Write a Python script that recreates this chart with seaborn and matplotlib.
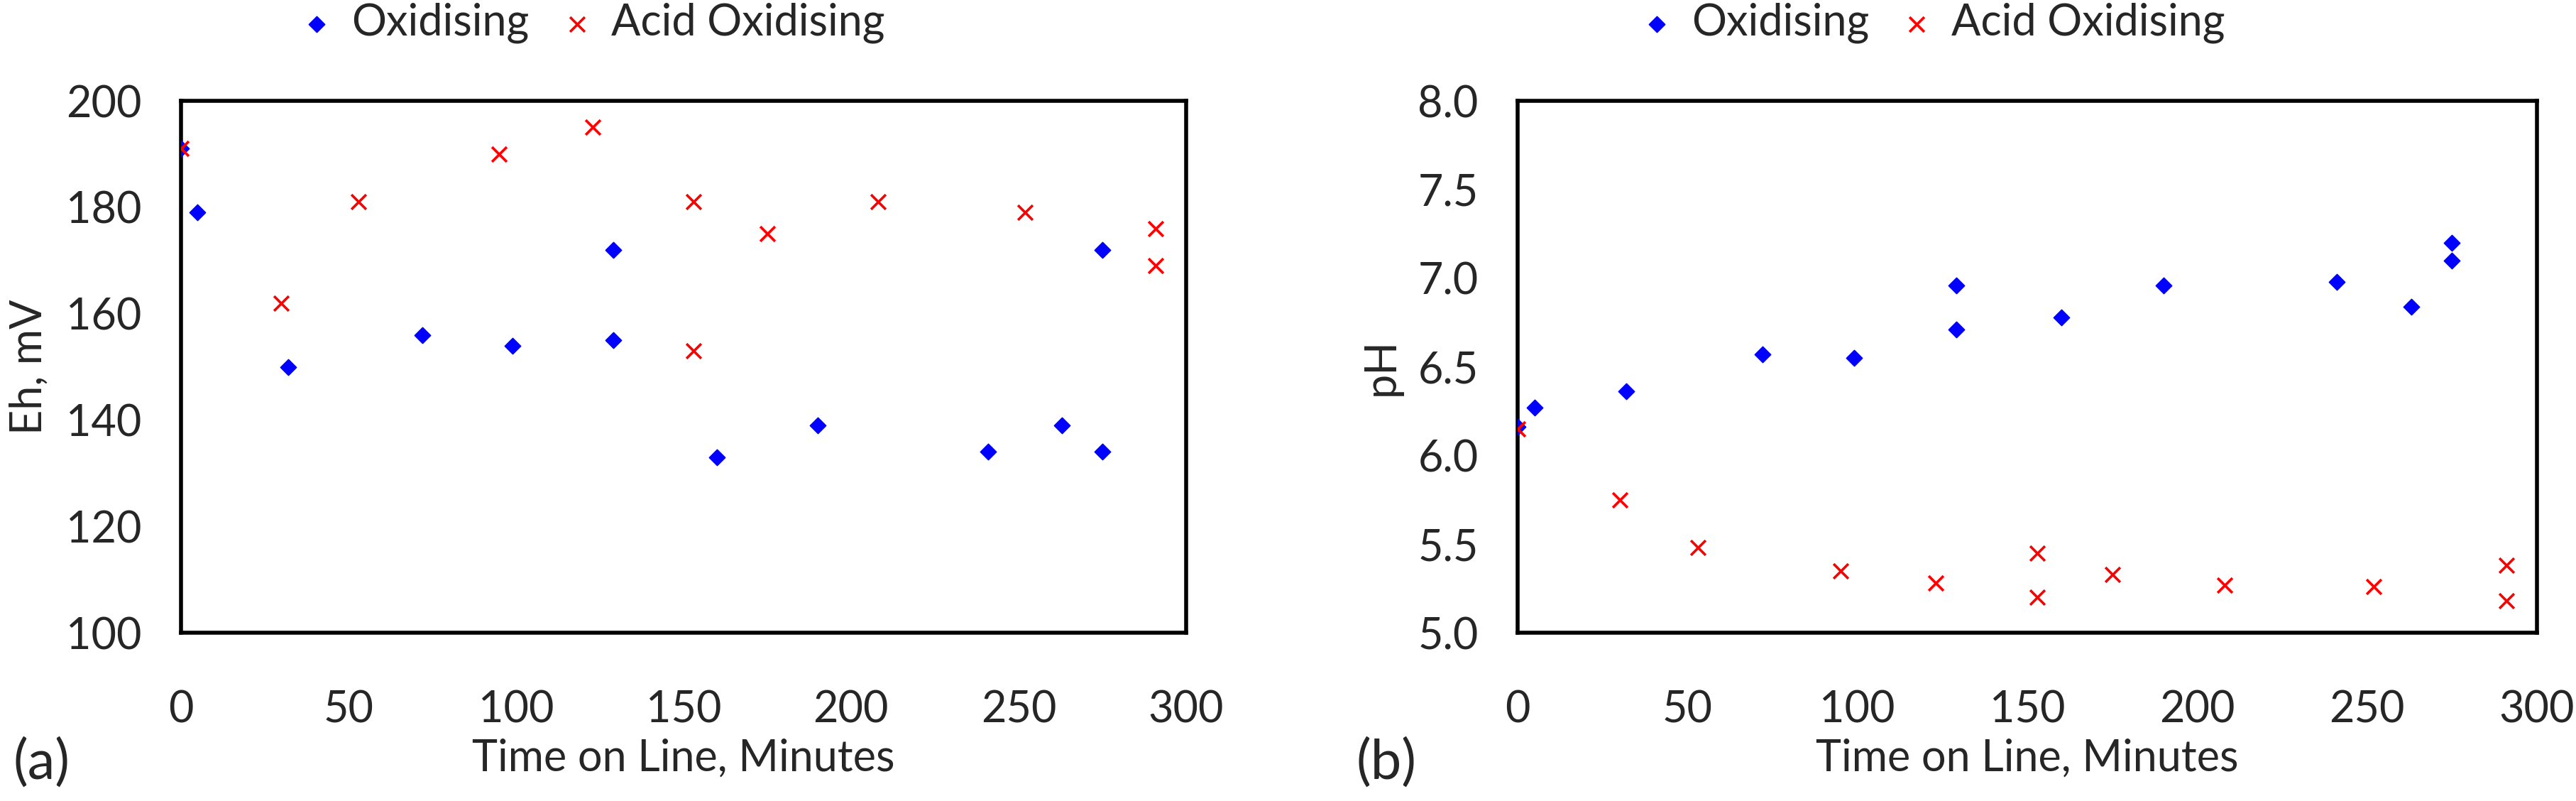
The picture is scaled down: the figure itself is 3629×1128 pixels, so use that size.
import matplotlib
matplotlib.use("Agg")
import matplotlib.pyplot as plt
import seaborn as sns

# ---------------------------------------------------------------
# Data
# ---------------------------------------------------------------
ox_time = [0, 5, 32, 72, 99, 129, 129, 160, 190, 241, 263, 275, 275]
ox_eh = [191, 179, 150, 156, 154, 172, 155, 133, 139, 134, 139, 172, 134]
ox_ph = [6.16, 6.27, 6.36, 6.57, 6.55, 6.96, 6.71, 6.78, 6.96, 6.98, 6.84, 7.20, 7.10]

acid_time = [0, 30, 53, 95, 123, 153, 153, 175, 208, 252, 291, 291]
acid_eh = [191, 162, 181, 190, 195, 181, 153, 175, 181, 179, 176, 169]
acid_ph = [6.15, 5.75, 5.48, 5.35, 5.28, 5.45, 5.20, 5.33, 5.27, 5.26, 5.38, 5.18]

series_names = ["Oxidising", "Acid Oxidising"]
x_ticks = [0, 50, 100, 150, 200, 250, 300]
eh_ticks = [100, 120, 140, 160, 180, 200]
ph_ticks = [5.0, 5.5, 6.0, 6.5, 7.0, 7.5, 8.0]

sns.set_style("white")
plt.rcParams["font.family"] = ["Lato", "DejaVu Sans"]
FS = 22

fig = plt.figure(figsize=(18.15, 5.64), dpi=200)
ax_a = fig.add_axes([0.0702, 0.2101, 0.3901, 0.6640])
ax_b = fig.add_axes([0.5890, 0.2101, 0.3956, 0.6640])


def draw_panel(ax, y_ox, y_acid, yticks, ylim, ylabel, fmt, legend_x, tag, tag_x, ylab_x):
    sns.scatterplot(x=ox_time, y=y_ox, ax=ax, marker="D", color="#0000ff",
                    s=32, linewidth=0.6, edgecolor="#0000ff",
                    label=series_names[0], zorder=3)
    sns.scatterplot(x=acid_time, y=y_acid, ax=ax, marker="x", color="#ff0000",
                    s=56, linewidth=1.3, label=series_names[1], zorder=4)
    ax.set_xlim(0, 300)
    ax.set_ylim(*ylim)
    ax.set_xticks(x_ticks)
    ax.set_yticks(yticks)
    ax.set_yticklabels([fmt.format(v) for v in yticks])
    for side in ["top", "right", "left", "bottom"]:
        ax.spines[side].set_visible(True)
        ax.spines[side].set_color("black")
        ax.spines[side].set_linewidth(2)
    ax.tick_params(axis="both", direction="out", length=8, width=2,
                   labelsize=FS, color="black")
    ax.tick_params(axis="x", pad=21)
    ax.tick_params(axis="y", pad=12)
    ax.set_xlabel("Time on Line, Minutes", fontsize=FS, labelpad=4)
    ax.set_ylabel(ylabel, fontsize=FS)
    ax.yaxis.set_label_coords(ylab_x, 0.5)
    ax.grid(False)
    ax.legend(loc="center", bbox_to_anchor=(legend_x, 0.971),
              bbox_transform=fig.transFigure, ncol=2, frameon=False,
              fontsize=FS, handletextpad=0.3, columnspacing=0.6,
              borderpad=0, handlelength=1.0)
    fig.text(tag_x, 0.047, tag, fontsize=28, ha="left", va="center")


draw_panel(ax_a, ox_eh, acid_eh, eh_ticks, (100, 200), "Eh, mV", "{:.0f}",
           0.229, "(a)", 0.005, -0.131)
draw_panel(ax_b, ox_ph, acid_ph, ph_ticks, (5.0, 8.0), "pH", "{:.1f}",
           0.749, "(b)", 0.5264, -0.114)

fig.savefig("out.png", dpi=200, facecolor="white")
